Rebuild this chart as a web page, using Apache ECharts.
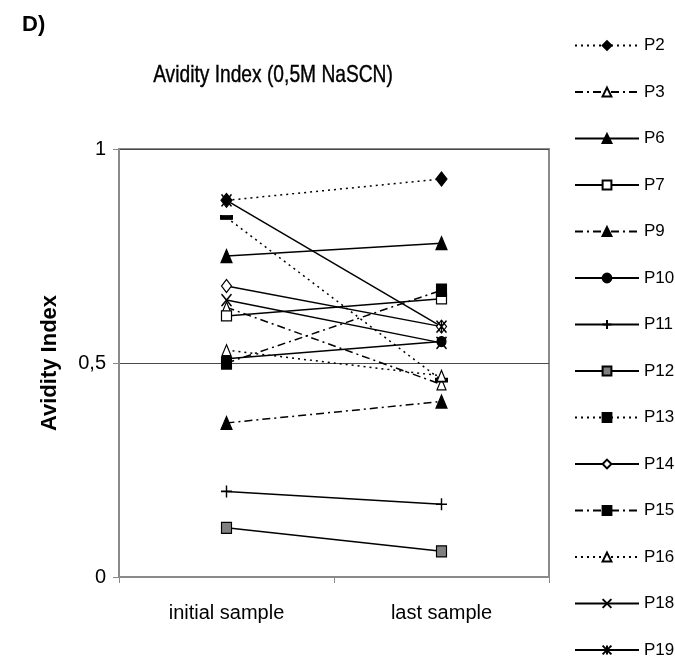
<!DOCTYPE html>
<html>
<head>
<meta charset="utf-8">
<script src="https://cdn.jsdelivr.net/npm/echarts@6/dist/echarts.min.js"></script>
<style>
  html, body { margin: 0; padding: 0; background: #fff; }
  #chart { width: 675px; height: 659px; }
</style>
</head>
<body>
<div id="chart"></div>
<script>
// Sampling points on the x axis
const categories = ['initial sample', 'last sample'];

// Avidity index per patient: [initial, last]
const P2  = [0.88, 0.93];
const P3  = [0.63, 0.45];
const P6  = [0.75, 0.78];
const P7  = [0.61, 0.65];
const P9  = [0.36, 0.41];
const P10 = [0.51, 0.55];
const P11 = [0.20, 0.17];
const P12 = [0.115, 0.06];
const P13 = [0.84, 0.46];
const P14 = [0.68, 0.585];
const P15 = [0.50, 0.67];
const P16 = [0.53, 0.47];
const P18 = [0.647, 0.547];
const P19 = [0.88, 0.585];

// Y axis tick values
const yTicks = [0, 0.5, 1];

const FONT = '"Liberation Sans", Arial, sans-serif';

const DOT = [2, 4];
const DASHDOT = [8, 4, 2, 4];

const PLUS = 'path://M5,0L5,10M0,5L10,5';
const CROSS = 'path://M0,0L10,10M10,0L0,10';
const ASTER = 'path://M0,0L10,10M10,0L0,10M5,0L5,10';

function mk(name, data, dash, symbol, fill, size) {
  const strokeOnly = symbol.startsWith('path://');
  return {
    name: name,
    type: 'line',
    data: data,
    symbol: symbol,
    symbolSize: size,
    showAllSymbol: true,
    lineStyle: { color: '#000', width: 1.5, type: dash },
    itemStyle: {
      color: strokeOnly ? 'rgba(0,0,0,0)' : fill,
      borderColor: '#000',
      borderWidth: strokeOnly ? 1.5 : 1.2
    },
    emphasis: { disabled: true },
    animation: false,
    z: 3
  };
}

const series = [
  mk('P2',  P2,  DOT,     'diamond',  '#000', [11, 14]),
  mk('P3',  P3,  DASHDOT, 'triangle', '#fff', [9, 11]),
  mk('P6',  P6,  'solid', 'triangle', '#000', [11, 13]),
  mk('P7',  P7,  'solid', 'rect',     '#fff', [10, 10]),
  mk('P9',  P9,  DASHDOT, 'triangle', '#000', [11, 13]),
  mk('P10', P10, 'solid', 'circle',   '#000', [9, 10]),
  mk('P11', P11, 'solid', PLUS,       '#000', [11, 12]),
  mk('P12', P12, 'solid', 'rect',     '#808080', [10, 11]),
  mk('P13', P13, DOT,     'rect',     '#000', [11, 4]),
  mk('P14', P14, 'solid', 'diamond',  '#fff', [10, 13]),
  mk('P15', P15, DASHDOT, 'rect',     '#000', [10, 12]),
  mk('P16', P16, DOT,     'triangle', '#fff', [9, 11]),
  mk('P18', P18, 'solid', CROSS,      '#000', [10, 12]),
  mk('P19', P19, 'solid', ASTER,      '#000', [10, 12])
];

const chart = echarts.init(document.getElementById('chart'), null, { renderer: 'canvas' });

chart.setOption({
  backgroundColor: '#fff',
  animation: false,
  textStyle: { fontFamily: FONT, color: '#000' },
  graphic: [
    {
      type: 'text', x: 22, y: 14,
      style: { text: 'D)', font: 'bold 22px "Liberation Sans", Arial, sans-serif', fill: '#000' }
    },
    {
      // condensed chart title
      type: 'text', x: 273, y: 75, scaleX: 0.8,
      style: {
        text: 'Avidity Index (0,5M NaSCN)',
        font: '24px "Liberation Sans", Arial, sans-serif',
        fill: '#000', stroke: '#000', lineWidth: 0.4,
        align: 'center', verticalAlign: 'middle',
        textAlign: 'center', textVerticalAlign: 'middle'
      }
    }
  ],
  legend: {
    orient: 'vertical',
    left: 569,
    top: 32,
    height: 640,
    itemWidth: 64,
    itemHeight: 11,
    itemGap: 29.5,
    selectedMode: false,
    textStyle: { fontFamily: FONT, fontSize: 17, color: '#000' },
    data: series.map(s => s.name)
  },
  grid: {
    left: 119, right: 126, top: 149, bottom: 82,
    show: true, borderColor: '#8a8a8a', borderWidth: 2, backgroundColor: 'transparent'
  },
  xAxis: {
    type: 'category',
    data: categories,
    boundaryGap: true,
    axisLine: { lineStyle: { color: '#8a8a8a', width: 2 } },
    axisTick: { show: true, length: 6, lineStyle: { color: '#8a8a8a', width: 1 } },
    axisLabel: { color: '#000', fontFamily: FONT, fontSize: 20, margin: 26 }
  },
  yAxis: {
    type: 'value',
    min: 0, max: 1, interval: 0.5,
    name: 'Avidity Index',
    nameLocation: 'middle',
    nameGap: 58,
    nameTextStyle: { fontFamily: FONT, fontSize: 22, fontWeight: 'bold', color: '#000' },
    axisLine: { show: true, lineStyle: { color: '#8a8a8a', width: 2 } },
    axisTick: { show: true, length: 6, lineStyle: { color: '#8a8a8a' } },
    splitLine: { show: true, lineStyle: { color: '#4a4a4a', width: 1 } },
    axisLabel: {
      color: '#000', fontFamily: FONT, fontSize: 20, margin: 13,
      formatter: v => yTicks.includes(v) ? String(v).replace('.', ',') : ''
    }
  },
  series: series
});
</script>
</body>
</html>
